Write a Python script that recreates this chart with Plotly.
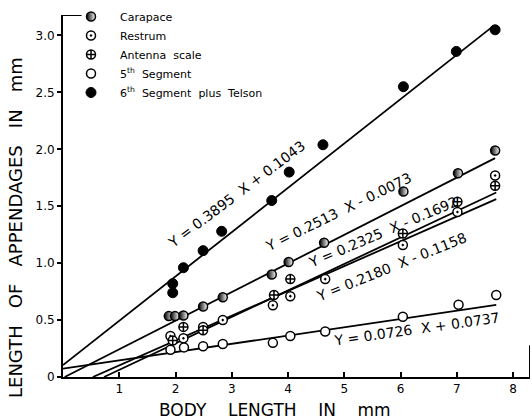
import plotly.graph_objects as go

# ---------------- data ----------------
carapace_x = [1.88, 1.99, 2.14, 2.49, 2.84, 3.71, 4.01, 4.64, 6.05, 7.02, 7.68]
carapace_y = [0.535, 0.535, 0.54, 0.62, 0.70, 0.90, 1.01, 1.18, 1.63, 1.79, 1.99]

rostrum_x = [1.91, 2.14, 2.49, 2.84, 3.73, 4.04, 4.66, 6.04, 7.01, 7.68]
rostrum_y = [0.36, 0.34, 0.44, 0.50, 0.63, 0.71, 0.86, 1.16, 1.45, 1.77]

antenna_x = [1.95, 2.14, 2.49, 3.75, 4.04, 6.04, 7.01, 7.68]
antenna_y = [0.32, 0.44, 0.41, 0.72, 0.86, 1.26, 1.54, 1.68]

fifth_x = [1.91, 2.15, 2.49, 2.84, 3.73, 4.04, 4.66, 6.04, 7.03, 7.70]
fifth_y = [0.24, 0.26, 0.27, 0.29, 0.30, 0.36, 0.40, 0.53, 0.635, 0.72]

sixth_x = [1.95, 1.95, 2.14, 2.49, 2.82, 3.71, 4.02, 4.62, 6.05, 6.99, 7.68]
sixth_y = [0.82, 0.74, 0.96, 1.11, 1.28, 1.55, 1.80, 2.04, 2.55, 2.86, 3.05]

# regression lines: slope, intercept, x start, x end, label
line_slopes = [0.3895, 0.2513, 0.2325, 0.2180, 0.0726]
line_intercepts = [0.1043, -0.0073, -0.1692, -0.1158, 0.0737]
line_x_start = [0.0, 0.03, 0.73, 0.53, 0.0]
line_x_end = [7.64, 7.68, 7.70, 7.70, 7.70]
line_labels = ["Y = 0.3895  X + 0.1043",
               "Y = 0.2513  X - 0.0073",
               "Y = 0.2325  X - 0.1692",
               "Y = 0.2180  X - 0.1158",
               "Y = 0.0726  X + 0.0737"]
# label placement (data coords of label centre) and angle
label_x = [3.09, 4.89, 5.69, 5.83, 6.29]
label_y = [1.605, 1.45, 1.27, 0.97, 0.42]
label_angle = [-37, -26, -23, -22, -8]

x_ticks = [1, 2, 3, 4, 5, 6, 7, 8]
y_ticks = [0, 0.5, 1.0, 1.5, 2.0, 2.5, 3.0]
y_ticktext = ["0", "0.5", "1.0", "1.5", "2.0", "2.5", "3.0"]

series_names = ["Carapace", "Restrum", "Antenna\u00a0 scale",
                "5<sup>th</sup>\u00a0 Segment",
                "6<sup>th</sup>\u00a0 Segment\u00a0 plus\u00a0 Telson"]

FONT = "DejaVu Sans"
fig = go.Figure()

for m, b, x0, x1 in zip(line_slopes, line_intercepts, line_x_start, line_x_end):
    fig.add_trace(go.Scatter(x=[x0, x1], y=[m * x0 + b, m * x1 + b], mode="lines",
                             line=dict(color="black", width=1.8),
                             showlegend=False, hoverinfo="skip"))

mk = 9
fig.add_trace(go.Scatter(x=carapace_x, y=carapace_y, mode="markers", name=series_names[0],
                         marker=dict(symbol="circle", size=mk, color="black",
                                     gradient=dict(type="horizontal", color="white"),
                                     line=dict(color="black", width=1.5))))
fig.add_trace(go.Scatter(x=rostrum_x, y=rostrum_y, mode="markers", name=series_names[1],
                         marker=dict(symbol="circle-dot", size=mk, color="white",
                                     line=dict(color="black", width=1.5))))
fig.add_trace(go.Scatter(x=antenna_x, y=antenna_y, mode="markers", name=series_names[2],
                         marker=dict(symbol="circle-cross", size=mk, color="white",
                                     line=dict(color="black", width=1.5))))
fig.add_trace(go.Scatter(x=fifth_x, y=fifth_y, mode="markers", name=series_names[3],
                         marker=dict(symbol="circle", size=mk, color="white",
                                     line=dict(color="black", width=1.5))))
fig.add_trace(go.Scatter(x=sixth_x, y=sixth_y, mode="markers", name=series_names[4],
                         marker=dict(symbol="circle", size=mk + 1, color="black",
                                     line=dict(color="black", width=1))))

annotations = []
for t, lx, ly, ang in zip(line_labels, label_x, label_y, label_angle):
    annotations.append(dict(x=lx, y=ly, xref="x", yref="y", text=t, textangle=ang,
                            showarrow=False, font=dict(family=FONT, size=14, color="black")))

# plot area: top 15 px, bottom 377 px; margin top is 5 so the legend can sit above
H_PLOT = 419 - 5 - 42
NB = "\u00a0"
annotations.append(dict(x=(275 - 63) / 467, y=(377 - 410) / H_PLOT, xref="paper", yref="paper",
                        text=("BODY" + NB * 4 + "LENGTH" + NB * 4 + "IN" + NB * 4 + "mm"),
                        showarrow=False, xanchor="center", yanchor="middle",
                        font=dict(family=FONT, size=17, color="black")))
annotations.append(dict(x=(15 - 63) / 467, y=(377 - 228) / H_PLOT, xref="paper", yref="paper",
                        text=("LENGTH" + NB * 3 + "OF" + NB * 3 + "APPENDAGES" + NB * 3 + "IN" + NB * 3 + "mm"),
                        textangle=-90, showarrow=False, xanchor="center", yanchor="middle",
                        font=dict(family=FONT, size=18, color="black")))

shapes = [
    dict(type="line", xref="x", yref="y", x0=0, x1=0.33, y0=3.18, y1=3.18,
         line=dict(color="black", width=2)),
    dict(type="line", xref="x", yref="y", x0=8.3, x1=8.3, y0=0, y1=0.28,
         line=dict(color="black", width=2)),
]

fig.update_layout(
    width=532, height=419,
    margin=dict(l=63, r=2, t=5, b=42, autoexpand=False),
    paper_bgcolor="white", plot_bgcolor="white",
    font=dict(family=FONT, color="black"),
    showlegend=True,
    legend=dict(x=(62 - 63) / 467, y=1 + 3 / H_PLOT, xanchor="left", yanchor="top",
                bgcolor="rgba(0,0,0,0)", borderwidth=0,
                font=dict(family=FONT, size=11, color="black"),
                tracegroupgap=0, itemwidth=48),
    annotations=annotations,
    shapes=shapes,
    xaxis=dict(range=[0, 8.3], showgrid=False, zeroline=False,
               showline=True, linecolor="black", linewidth=2,
               ticks="inside", ticklen=5, tickwidth=1.5, tickcolor="black",
               tickvals=x_ticks, ticktext=[str(v) for v in x_ticks],
               tickfont=dict(family=FONT, size=12, color="black")),
    yaxis=dict(range=[0, 3.18], domain=[0, 362 / H_PLOT], showgrid=False, zeroline=False,
               showline=True, linecolor="black", linewidth=2,
               ticks="outside", ticklen=4, tickwidth=1.5, tickcolor="black",
               tickvals=y_ticks, ticktext=y_ticktext,
               tickfont=dict(family=FONT, size=12, color="black")),
)

fig.write_html("out.html", config={"displayModeBar": False},
               post_script="document.body.style.margin='0';document.body.style.overflow='hidden';")
